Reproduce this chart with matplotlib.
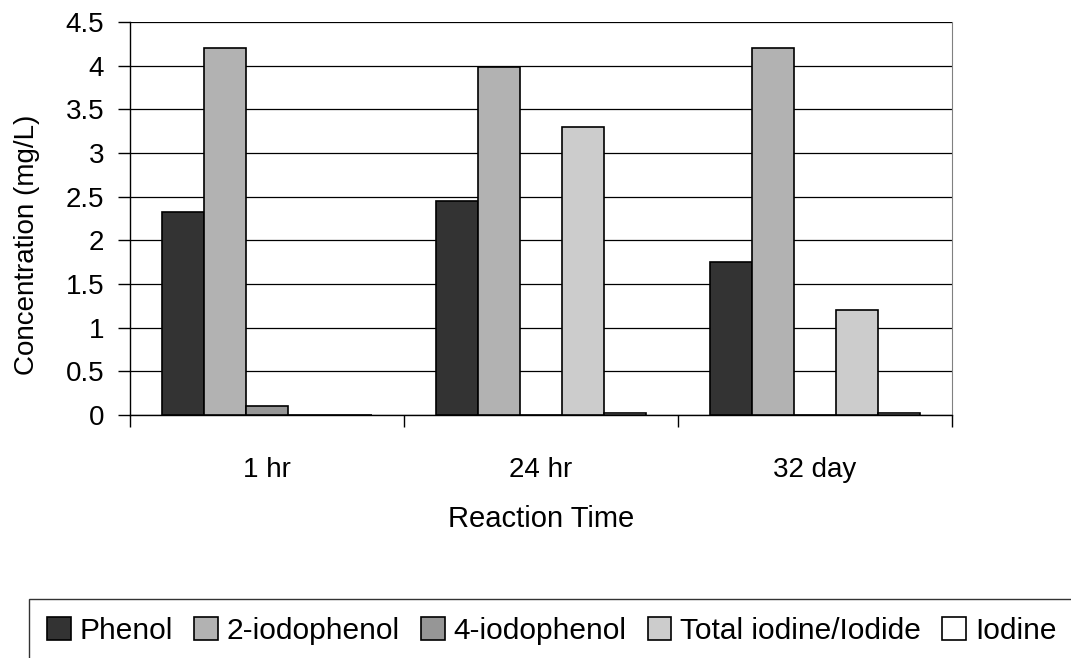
import numpy as np
from matplotlib import pyplot as plt

plt.rcParams['font.family'] = ['Liberation Sans', 'DejaVu Sans']

times = ['1 hr', '24 hr', '32 day']
series = ['Phenol', '2-iodophenol', '4-iodophenol', 'Total iodine/Iodide', 'Iodine']
phenol = [2.33, 2.45, 1.75]
iodo2 = [4.2, 3.98, 4.2]
iodo4 = [0.1, 0.0, 0.0]
total_iodine = [0.0, 3.3, 1.2]
iodine = [0.0, 0.02, 0.02]
colors = ['#333333', '#b2b2b2', '#969696', '#cccccc', '#ffffff']

values = [phenol, iodo2, iodo4, total_iodine, iodine]

fig = plt.figure(figsize=(10.71, 6.58), dpi=100)
ax = fig.add_axes([0.1214, 0.3693, 0.7675, 0.5973])

x = np.arange(len(times))
w = 1 / 6.5
for i, (name, vals) in enumerate(zip(series, values)):
    ax.bar(x + (i - 2) * w, vals, w, color=colors[i], edgecolor='black',
           linewidth=1.2, label=name, zorder=3)

ax.set_xlim(-0.5, 2.5)
ax.set_ylim(0, 4.5)
ax.set_yticks(np.arange(0, 4.51, 0.5))
ax.set_yticklabels(['0', '0.5', '1', '1.5', '2', '2.5', '3', '3.5', '4', '4.5'])
ax.yaxis.grid(True, color='black', linewidth=0.9, zorder=0)
ax.set_xticks(x)
ax.set_xticklabels(times)
ax.set_xticks([-0.5, 0.5, 1.5, 2.5], minor=True)
ax.tick_params(axis='x', which='major', length=0, pad=30, labelsize=20)
ax.tick_params(axis='x', which='minor', length=8.5, width=1, direction='out')
ax.tick_params(axis='y', length=8.5, width=1, direction='out', labelsize=20, pad=10)

ax.spines['top'].set_visible(False)
ax.spines['right'].set_color('#808080')
ax.spines['left'].set_linewidth(1)
ax.spines['bottom'].set_linewidth(1)

ax.set_xlabel('Reaction Time', fontsize=21, labelpad=16)
ax.set_ylabel('Concentration (mg/L)', fontsize=20)
ax.yaxis.set_label_coords(-0.11, 0.433)

leg = fig.legend(loc='upper left', bbox_to_anchor=(0.027, 0.09), ncol=5,
                 fontsize=21.5, frameon=True, fancybox=False, edgecolor='black',
                 handlelength=0.8, handleheight=0.8, handletextpad=0.3,
                 columnspacing=0.7, borderpad=0.6, borderaxespad=0)
leg.get_frame().set_linewidth(1)

fig.savefig('out.png', dpi=100)
